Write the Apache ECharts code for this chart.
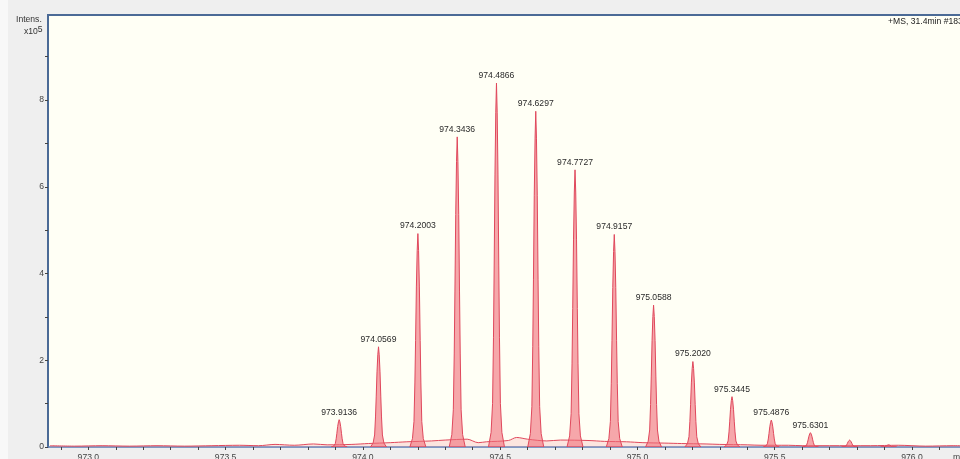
<!DOCTYPE html>
<html>
<head>
<meta charset="utf-8">
<script src="https://cdn.jsdelivr.net/npm/echarts@6/dist/echarts.min.js"></script>
<style>
  html, body { margin: 0; padding: 0; background: #efefef; }
  #chart { width: 960px; height: 459px; }
</style>
</head>
<body>
<div id="chart"></div>
<script>
// Isotope cluster: centroid m/z and intensity (x10^5)
const peakMz = [973.9136, 974.0569, 974.2003, 974.3436, 974.4866, 974.6297, 974.7727,
                974.9157, 975.0588, 975.2020, 975.3445, 975.4876, 975.6301];
const peakIntensity = [0.63, 2.31, 4.92, 7.15, 8.39, 7.74, 6.39,
                       4.90, 3.27, 1.97, 1.16, 0.62, 0.33];

// Unlabelled trailing isotopes
const smallPeakMz = [975.773, 975.915];
const smallPeakIntensity = [0.16, 0.05];

// Baseline / noise profile under the cluster
const baselineMz = [972.86, 972.95, 973.05, 973.15, 973.25, 973.35, 973.45, 973.55, 973.62, 973.68,
                    973.75, 973.82, 973.87, 973.96, 974.02, 974.10, 974.16, 974.25, 974.30, 974.38,
                    974.42, 974.45, 974.53, 974.56, 974.60, 974.67, 974.72, 974.82, 974.88, 974.96,
                    975.02, 975.10, 975.16, 975.25, 975.30, 975.40, 975.45, 975.55, 975.60, 975.70,
                    975.85, 975.95, 976.05, 976.15, 976.27];
const baselineIntensity = [0.03, 0.02, 0.03, 0.02, 0.03, 0.02, 0.03, 0.04, 0.03, 0.06,
                           0.04, 0.07, 0.05, 0.06, 0.08, 0.10, 0.12, 0.14, 0.16, 0.18,
                           0.10, 0.12, 0.15, 0.22, 0.18, 0.14, 0.16, 0.15, 0.13, 0.12,
                           0.10, 0.09, 0.08, 0.07, 0.06, 0.05, 0.04, 0.04, 0.03, 0.03,
                           0.03, 0.04, 0.02, 0.03, 0.02];

// Axis ticks and labels
const xTickValues = [972.9, 973.0, 973.1, 973.2, 973.3, 973.4, 973.5, 973.6, 973.7, 973.8,
                     973.9, 974.0, 974.1, 974.2, 974.3, 974.4, 974.5, 974.6, 974.7, 974.8,
                     974.9, 975.0, 975.1, 975.2, 975.3, 975.4, 975.5, 975.6, 975.7, 975.8,
                     975.9, 976.0, 976.1];
const xLabelValues = [973.0, 973.5, 974.0, 974.5, 975.0, 975.5, 976.0];
const yTickValues = [0, 1, 2, 3, 4, 5, 6, 7, 8, 9];
const yLabelValues = [0, 2, 4, 6, 8];

const X_MIN = 972.853, X_MAX = 976.175;

// Peak outline: [fraction of height, half-width in px]
const PROFILE = [[0, 8], [0.04, 5.4], [0.12, 3.9], [0.3, 3.0], [0.5, 2.3], [0.75, 1.5], [0.92, 0.7], [1, 0]];

function makePeakRenderer(withLabel) {
  return function (params, api) {
    const mz = api.value(0), h = api.value(1);
    const top = api.coord([mz, h]);
    const base = api.coord([mz, 0]);
    const H = base[1] - top[1];
    const pts = [];
    for (let i = 0; i < PROFILE.length; i++) {
      pts.push([top[0] - PROFILE[i][1], base[1] - PROFILE[i][0] * H]);
    }
    for (let i = PROFILE.length - 1; i >= 0; i--) {
      pts.push([top[0] + PROFILE[i][1], base[1] - PROFILE[i][0] * H]);
    }
    const children = [{
      type: 'polygon',
      shape: { points: pts },
      style: { fill: 'rgba(240,108,120,0.6)', stroke: '#e0485c', lineWidth: 1 }
    }];
    if (withLabel) {
      children.push({
        type: 'text',
        x: top[0],
        y: top[1] - 3,
        style: {
          text: mz.toFixed(4),
          fill: '#2a2a2a',
          font: '8.6px "Liberation Sans", Arial, sans-serif',
          align: 'center',
          verticalAlign: 'bottom'
        }
      });
    }
    return { type: 'group', children: children };
  };
}

const chart = echarts.init(document.getElementById('chart'), null, { renderer: 'canvas' });

chart.setOption({
  animation: false,
  backgroundColor: '#efefef',
  grid: {
    left: 48, top: 15, right: 0, bottom: 12,
    outerBoundsMode: 'none', containLabel: false,
    show: true, backgroundColor: '#fffff5', borderWidth: 0
  },
  xAxis: {
    type: 'value', min: X_MIN, max: X_MAX,
    axisLine: { show: true, lineStyle: { color: '#5b7db5', width: 1.5 } },
    axisTick: { show: true, customValues: xTickValues, length: 3, lineStyle: { color: '#444' } },
    axisLabel: {
      customValues: xLabelValues, margin: 6,
      formatter: v => v.toFixed(1),
      color: '#444', fontSize: 8.6, fontFamily: '"Liberation Sans", Arial, sans-serif'
    },
    splitLine: { show: false }
  },
  yAxis: {
    type: 'value', min: 0, max: 9.96,
    axisLine: { show: true, lineStyle: { color: '#4b6a96', width: 2 } },
    axisTick: { show: true, customValues: yTickValues, length: 3, lineStyle: { color: '#444' } },
    axisLabel: {
      customValues: yLabelValues, margin: 4,
      color: '#444', fontSize: 8.6, fontFamily: '"Liberation Sans", Arial, sans-serif'
    },
    splitLine: { show: false }
  },
  series: [
    {
      type: 'line',
      data: baselineMz.map((m, i) => [m, baselineIntensity[i]]),
      smooth: 0.3, symbol: 'none', z: 2,
      lineStyle: { color: '#e0485c', width: 1 },
      areaStyle: { color: 'rgba(240,130,140,0.30)' }
    },
    {
      type: 'custom', z: 3, clip: true,
      renderItem: makePeakRenderer(true),
      data: peakMz.map((m, i) => [m, peakIntensity[i]])
    },
    {
      type: 'custom', z: 3, clip: true,
      renderItem: makePeakRenderer(false),
      data: smallPeakMz.map((m, i) => [m, smallPeakIntensity[i]])
    }
  ],
  graphic: [
    { type: 'rect', left: 0, top: 0, shape: { width: 8, height: 459 }, style: { fill: '#f8f8f8' }, z: -1 },
    {
      type: 'line', z: 10,
      shape: { x1: 47, y1: 15, x2: 960, y2: 15 },
      style: { stroke: '#4b6a96', lineWidth: 2 }
    },
    {
      type: 'text', left: 16, top: 15,
      style: { text: 'Intens.', fill: '#333', font: '8.6px "Liberation Sans", Arial, sans-serif' }
    },
    {
      type: 'text', left: 24, top: 25,
      style: {
        text: 'x10{sup|5}', fill: '#333', font: '8.6px "Liberation Sans", Arial, sans-serif',
        rich: { sup: { fontSize: 8.6, verticalAlign: 'top', padding: [0, 0, 5, 0], fill: '#333' } }
      }
    },
    {
      type: 'text', left: 888, top: 17,
      style: { text: '+MS, 31.4min #1837', fill: '#222', font: '8.6px "Liberation Sans", Arial, sans-serif' }
    },
    {
      type: 'text', left: 953, top: 453,
      style: { text: 'm/z', fill: '#444', font: '8.6px "Liberation Sans", Arial, sans-serif' }
    }
  ]
});
</script>
</body>
</html>
